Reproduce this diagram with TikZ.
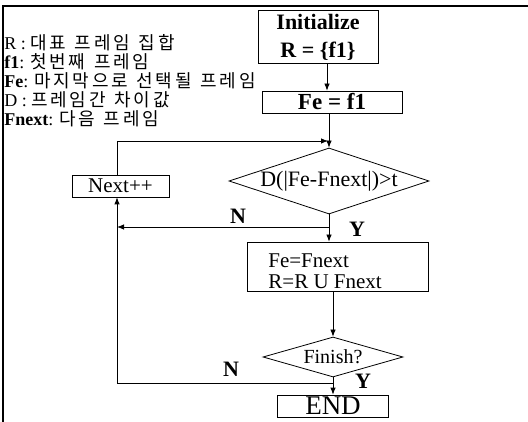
\documentclass[tikz,border=0pt]{standalone}
\usepackage{fontspec}
\setmainfont{Liberation Serif}
\newfontfamily\kr[LetterSpace=15,WordSpace=1.3]{Noto Sans CJK KR}
\usetikzlibrary{arrows.meta,shapes.geometric}
\begin{document}
\begin{tikzpicture}[x=1pt,y=-1pt,line width=0.8pt,
  box/.style={draw,rectangle,inner sep=0pt},
  dia/.style={draw,diamond,inner sep=0pt},
  arr/.style={-{Latex[length=7pt,width=5.5pt]}},
  lab/.style={inner sep=0pt,font=\fontsize{22}{24}\selectfont\bfseries},
  leg/.style={anchor=west,inner sep=0pt,font=\fontsize{18}{20}\selectfont}]
\useasboundingbox (0,0) rectangle (528,422);
\draw[line width=1.8pt] (3,422) -- (3,6) -- (528,6);
% legend
\newcommand{\krtext}[1]{{\kr\fontsize{18}{20}\selectfont #1}}
\node[leg] (l1) at (4,43) {R : \krtext{대표 프레임 집합}};
\node[leg] (l2) at (4,62) {\textbf{f1}: \krtext{첫번째 프레임}};
\node[leg] (l3) at (4,81) {\textbf{Fe}: \krtext{마지막으로 선택될 프레임}};
\node[leg] (l4) at (4,100) {D : \krtext{프레임간 차이값}};
\node[leg] (l5) at (4,119) {\textbf{Fnext}: \krtext{다음 프레임}};
% nodes
\node[box,minimum width=120pt,minimum height=53pt,align=center,
  font=\fontsize{22}{28}\selectfont\bfseries] (init) at (318,37) {Initialize\\R = \{f1\}};
\node[box,minimum width=140pt,minimum height=22pt,
  font=\fontsize{23}{24}\selectfont\bfseries] (fe) at (332,102) {Fe = f1};
\node[dia,minimum width=200pt,minimum height=66pt,
  font=\fontsize{22}{24}\selectfont] (d1) at (329,181) {\makebox[0pt]{D(|Fe-Fnext|)>t}};
\node[box,minimum width=97pt,minimum height=22pt,
  font=\fontsize{21}{24}\selectfont] (nx) at (120.5,186) {Next++};
\node[box,minimum width=181pt,minimum height=49pt] (up) at (337.5,266.5) {};
\node[anchor=west,inner sep=0pt,align=left,
  font=\fontsize{21}{21}\selectfont] (upt) at (268,271.5) {Fe=Fnext\\R=R U Fnext};
\node[dia,minimum width=140pt,minimum height=40pt,
  font=\fontsize{20}{22}\selectfont] (fin) at (333,357) {\makebox[0pt]{Finish?}};
\node[box,minimum width=111pt,minimum height=22pt,
  font=\fontsize{27}{27}\selectfont] (end) at (333,406) {END};
% labels
\node[lab] (n1) at (238,216) {N};
\node[lab] (y1) at (357,229) {Y};
\node[lab] (n2) at (231,369) {N};
\node[lab] (y2) at (363,381) {Y};
% helper coordinates
\coordinate (c1) at (327,0);
\coordinate (cl) at (117,0);
\coordinate (j1) at (328,141);
\coordinate (j2) at (329,227);
\coordinate (j3) at (333,383);
% connectors
\draw[arr] (init.south -| c1) -- (fe.north -| c1);
\draw[arr] (fe.south -| d1) -- (d1.north);
\draw[arr] (nx.north -| cl) |- (j1);
\draw[arr] (d1.south) -- (up.north -| d1);
\draw[arr] (j2) -- (j2 -| cl);
\draw[arr] (up.south -| fin) -- (fin.north);
\draw[arr] (fin.south) -- (end.north);
\draw[arr] (j3) -| (nx.south -| cl);
\end{tikzpicture}
\end{document}
